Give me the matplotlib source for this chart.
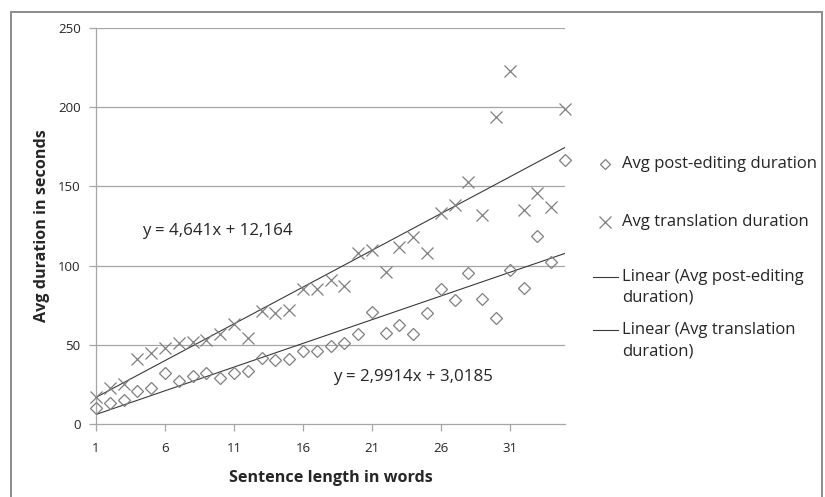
import matplotlib
matplotlib.use("Agg")
import matplotlib.pyplot as plt
from matplotlib.lines import Line2D
from matplotlib.patches import Rectangle
import numpy as np

plt.rcParams['font.family'] = ['Open Sans', 'DejaVu Sans']

# sentence length (words) and average durations in seconds
lengths = list(range(1, 36))
post_editing = [10, 13, 15, 21, 23, 32, 27, 30, 32, 29,
                32, 33.5, 41.5, 40.5, 41, 46, 46, 49.5, 51, 57,
                71, 57.5, 62.5, 57, 70, 85, 78, 95.5, 79, 67,
                97.5, 86, 118.5, 102, 166.5]
translation = [17, 23, 25, 41, 45, 48, 51, 52, 53, 57,
               63, 54.5, 71.5, 70, 72, 85, 85, 91, 87, 108,
               110, 96, 111.5, 118, 108, 133.5, 138, 152.5, 132, 193.5,
               223, 135, 146, 137, 199]

# Excel linear trendlines (slope, intercept)
post_fit = (2.9914, 3.0185)
trans_fit = (4.641, 12.164)

y_ticks = [0, 50, 100, 150, 200, 250]
x_ticks = [1, 6, 11, 16, 21, 26, 31]

fig = plt.figure(figsize=(8.25, 4.97), dpi=100)
W, H = 825, 497
ax = fig.add_axes([96 / W, 1 - 424 / H, (565 - 96) / W, (424 - 28) / H])


def fx(px):
    return px / W


def fy(py):
    return 1 - py / H


grid_col = '#a6a6a6'
mark_col = '#7f7f7f'
line_col = '#3a3a3a'
text_col = '#262626'

for yv in y_ticks[1:]:
    ax.axhline(yv, color=grid_col, lw=0.9, zorder=0)

x = np.array(lengths)
ax.plot(x, post_fit[0] * x + post_fit[1], color=line_col, lw=0.8, zorder=2)
ax.plot(x, trans_fit[0] * x + trans_fit[1], color=line_col, lw=0.8, zorder=2)

ax.plot(lengths, post_editing, linestyle='none', marker='D', markersize=6,
        markerfacecolor='none', markeredgecolor=mark_col, markeredgewidth=0.9,
        zorder=3, clip_on=False)
ax.plot(lengths, translation, linestyle='none', marker='x', markersize=9,
        color=mark_col, markeredgewidth=0.9, zorder=3, clip_on=False)

ax.set_xlim(1, 35)
ax.set_ylim(0, 250)
ax.set_yticks(y_ticks)
ax.set_xticks(x_ticks)
ax.tick_params(axis='both', colors=grid_col, labelcolor=text_col, labelsize=9.5,
               length=5, width=0.9, direction='out')
ax.tick_params(axis='x', pad=8)
ax.tick_params(axis='y', pad=6)
for side in ['top', 'right']:
    ax.spines[side].set_visible(False)
for side in ['left', 'bottom']:
    ax.spines[side].set_color(grid_col)
    ax.spines[side].set_linewidth(0.9)

ax.set_xlabel('Sentence length in words', fontsize=11.6, fontweight='bold',
              color=text_col, labelpad=11)
ax.set_ylabel('Avg duration in seconds', fontsize=11.6, fontweight='bold',
              color=text_col, labelpad=6)

fig.text(fx(142), fy(231), 'y = 4,641x + 12,164', fontsize=12.2,
         color=text_col, ha='left', va='center')
fig.text(fx(333), fy(377), 'y = 2,9914x + 3,0185', fontsize=12.2,
         color=text_col, ha='left', va='center')

# legend on the right
fig.add_artist(Line2D([fx(605)], [fy(164)], transform=fig.transFigure, marker='D',
                      markersize=5.5, markerfacecolor='none', markeredgecolor=mark_col,
                      markeredgewidth=0.9, linestyle='none'))
fig.add_artist(Line2D([fx(605)], [fy(222)], transform=fig.transFigure, marker='x',
                      markersize=9, color=mark_col, markeredgewidth=0.9, linestyle='none'))
fig.add_artist(Line2D([fx(593), fx(618)], [fy(277), fy(277)], transform=fig.transFigure,
                      color=line_col, lw=0.8))
fig.add_artist(Line2D([fx(593), fx(618)], [fy(330), fy(330)], transform=fig.transFigure,
                      color=line_col, lw=0.8))

legend_items = [
    (164, 'Avg post-editing duration'),
    (222, 'Avg translation duration'),
    (277, 'Linear (Avg post-editing'),
    (298, 'duration)'),
    (330, 'Linear (Avg translation'),
    (351, 'duration)'),
]
for py, label in legend_items:
    fig.text(fx(622), fy(py), label, fontsize=12, color=text_col, ha='left', va='center')

# chart area border
fig.add_artist(Rectangle((fx(11), fy(520)), fx(822 - 11), (520 - 12) / H,
                         transform=fig.transFigure, fill=False,
                         edgecolor='#8c8c8c', lw=1.4))

fig.savefig('out.png', dpi=100, facecolor='white')
